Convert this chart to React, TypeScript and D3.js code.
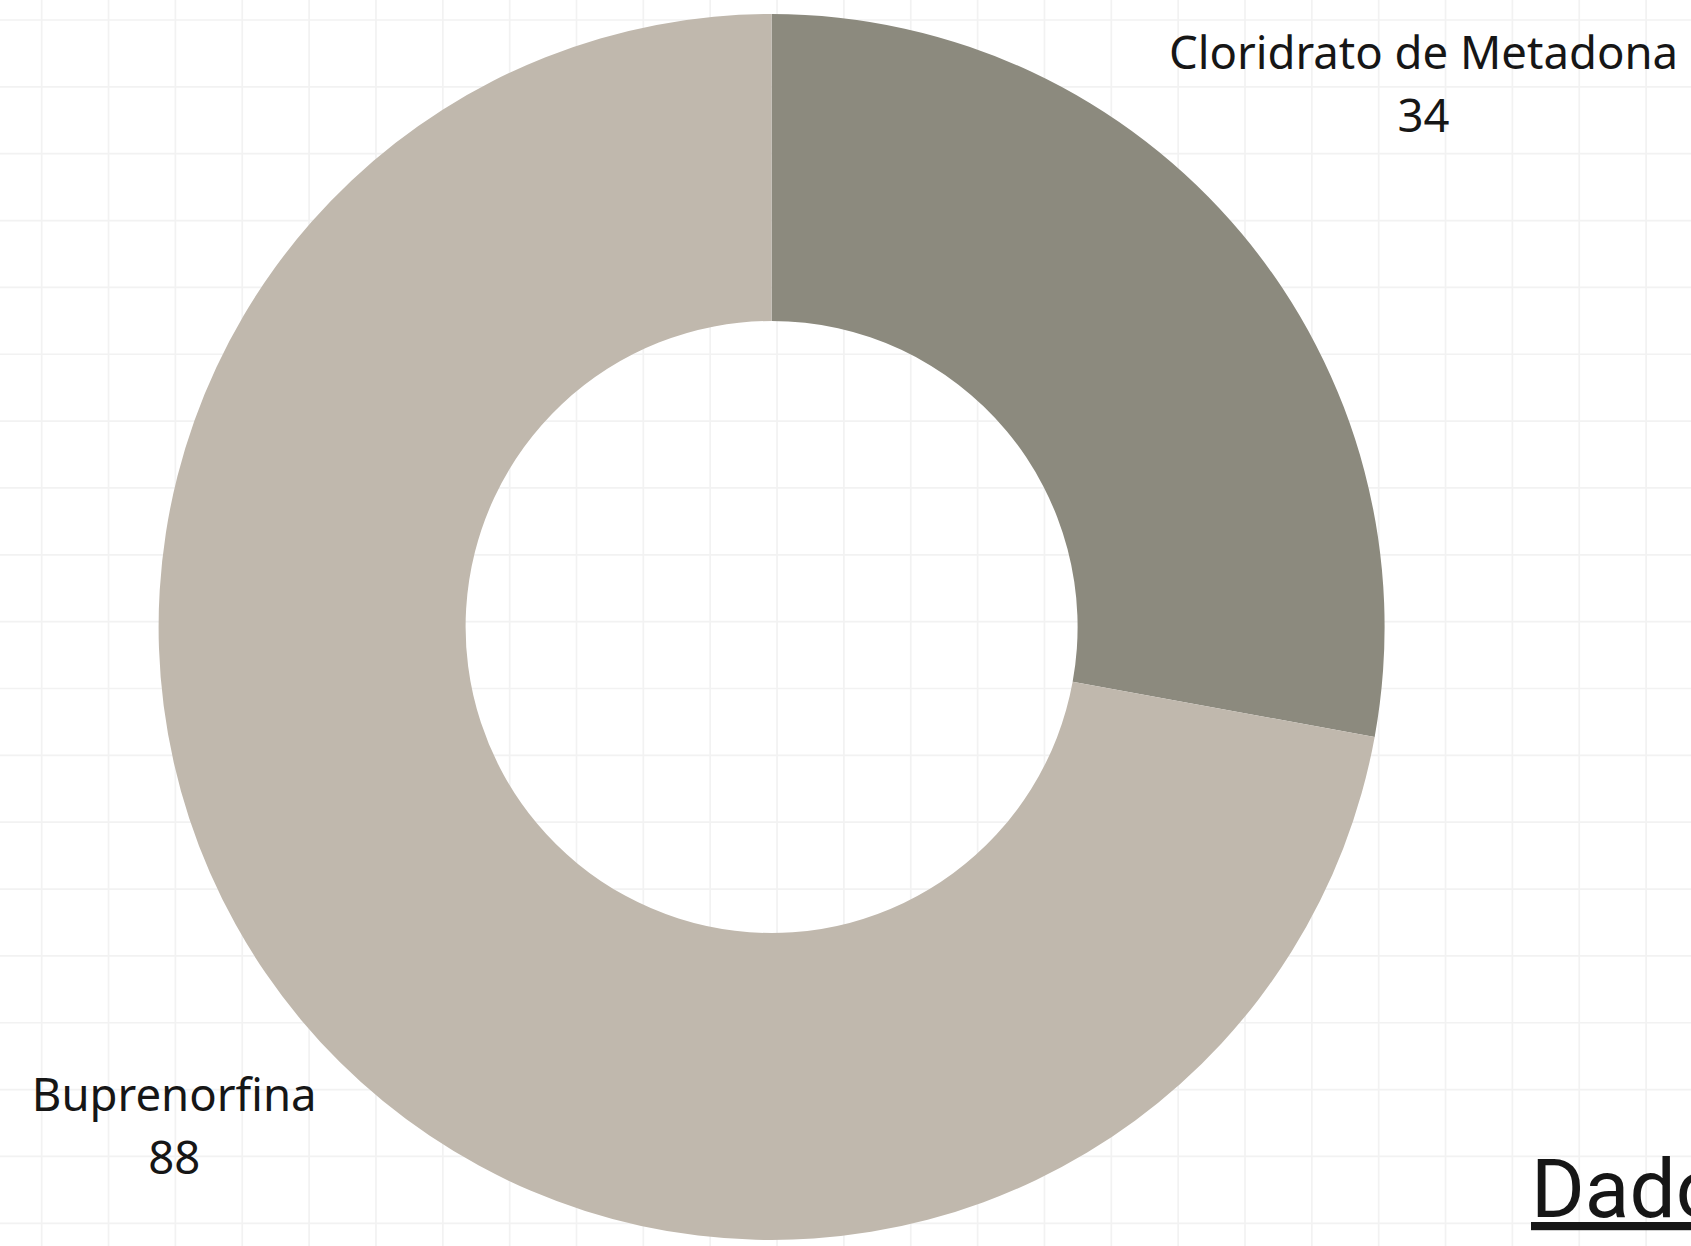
import React from "react";
import * as d3 from "d3";

const categories: string[] = ["Cloridrato de Metadona", "Buprenorfina"];
const values: number[] = [34, 88];
const colors: string[] = ["#8c8a7e", "#c0b8ad"];
const footerText = "Dados";

const W = 1691;
const H = 1246;
const CX = 771.6;
const CY = 627;
const R_OUT = 613;
const R_IN = 306;
const LABEL_RADII = [849, 778];
const GRID_STEP = 66.85;
const FONT = "'Noto Sans', 'Open Sans', sans-serif";

export default function App() {
  const data = categories.map((c, i) => ({ name: c, value: values[i] }));
  const pie = d3
    .pie<{ name: string; value: number }>()
    .sort(null)
    .value((d) => d.value);
  const arcs = pie(data);
  const arcGen = d3
    .arc<d3.PieArcDatum<{ name: string; value: number }>>()
    .innerRadius(R_IN)
    .outerRadius(R_OUT);

  const xs = d3.range(41.7, W, GRID_STEP);
  const ys = d3.range(20, H, GRID_STEP);

  return (
    <svg
      width={W}
      height={H}
      style={{ position: "fixed", left: 0, top: 0, background: "#fff" }}
    >
      <rect x={0} y={0} width={W} height={H} fill="#ffffff" />
      <g stroke="#f2f2f2" strokeWidth={1.7}>
        {xs.map((x, i) => (
          <line key={"vx" + i} x1={x} x2={x} y1={0} y2={H} />
        ))}
        {ys.map((y, i) => (
          <line key={"hy" + i} x1={0} x2={W} y1={y} y2={y} />
        ))}
      </g>
      <g transform={`translate(${CX},${CY})`}>
        {arcs.map((a, i) => (
          <path key={i} d={arcGen(a) || ""} fill={colors[i]} />
        ))}
        {arcs.map((a, i) => {
          const mid = (a.startAngle + a.endAngle) / 2;
          const r = LABEL_RADII[i];
          const x = r * Math.sin(mid);
          const y = -r * Math.cos(mid);
          return (
            <text
              key={"l" + i}
              x={x}
              y={y}
              textAnchor="middle"
              fontFamily={FONT}
              fontSize={45.5}
              fill="#161616"
            >
              <tspan x={x} dy={-14}>
                {a.data.name}
              </tspan>
              <tspan x={x} dy={63}>
                {a.data.value}
              </tspan>
            </text>
          );
        })}
      </g>
      <text
        x={1531}
        y={1217}
        fontFamily="Roboto, 'Noto Sans', sans-serif"
        fontSize={82}
        fill="#161616"
        textDecoration="underline"
      >
        {footerText}
      </text>
    </svg>
  );
}
